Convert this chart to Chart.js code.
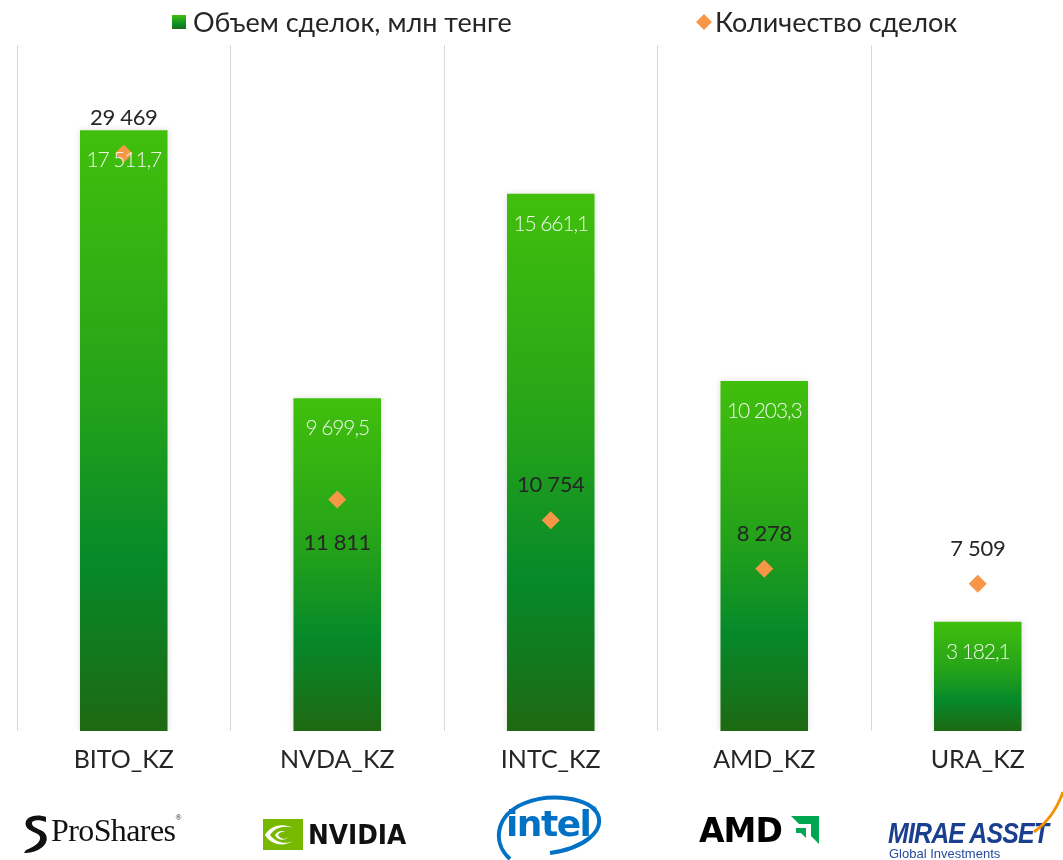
<!DOCTYPE html>
<html>
<head>
<meta charset="utf-8">
<script src="https://cdn.jsdelivr.net/npm/chart.js@4.4.1/dist/chart.umd.min.js"></script>
<style>
html,body{margin:0;padding:0;background:#fff;overflow:hidden;width:1063px;height:860px}
#wrap{position:absolute;left:0;top:0;width:1100px;height:860px}
.leg{position:absolute;font-family:Lato,sans-serif;font-size:27px;color:#262626;white-space:nowrap;line-height:1}
.logo{position:absolute;white-space:nowrap;line-height:1}
</style>
</head>
<body>
<div id="wrap"><canvas id="c" width="1100" height="860"></canvas></div>

<div class="leg" style="left:172px;top:15px;width:14px;height:14px;background:linear-gradient(#3fbe0c,#0a8a27 70%,#1e6912)"></div>
<div class="leg" id="leg1" style="left:193px;top:8px"></div>
<svg class="leg" style="left:696px;top:14px" width="16" height="16" viewBox="0 0 16 16"><path d="M8 0 L16 8 L8 16 L0 8 Z" fill="#f79646"/></svg>
<div class="leg" id="leg2" style="left:715px;top:8px"></div>

<!-- logos -->
<svg class="logo" style="left:21px;top:814px" width="30" height="40" viewBox="0 0 30 40">
  <path d="M25 3 C15 -1 2 3 5 12 C7 18 18 18 19 23 C20 29 12 33 5 36 L3 39 C16 39 29 31 25 21 C23 15 12 15 11 10 C10 6 18 5 25 8 Z" fill="#111"/>
</svg>
<div class="logo" style="left:51px;top:814px;font-family:'Liberation Serif',serif;font-size:32px;color:#111;letter-spacing:-0.6px">ProShares<span style="font-size:8px;vertical-align:top">®</span></div>

<svg class="logo" style="left:263px;top:819px" width="40" height="31" viewBox="0 0 40 31">
  <rect x="0" y="0" width="40" height="31" fill="#76b900"/>
  <path d="M2 16 C8 6 20 4 30 9 C22 6 12 8 7 16 C12 23 22 26 30 22 C20 28 8 26 2 16 Z" fill="#fff"/>
  <path d="M12 16 C15 11 21 11 24 14 C22 12 17 12 15 16 C17 20 22 21 25 18 C22 22 15 22 12 16 Z" fill="#fff"/>
</svg>
<div class="logo" style="left:308px;top:821px;font-family:'DejaVu Sans',sans-serif;font-weight:bold;font-size:27px;color:#111;transform:scaleX(0.92);transform-origin:left">NVIDIA</div>

<svg class="logo" style="left:490px;top:793px" width="115" height="67" viewBox="0 0 115 67">
  <path d="M20 66 C2 50 5 22 35 10 C60 0 100 4 108 22 C114 38 95 55 60 60" fill="none" stroke="#0071c5" stroke-width="4"/>
</svg>
<div class="logo" style="left:506px;top:806px;font-family:'DejaVu Sans',sans-serif;font-weight:bold;font-size:36px;color:#0071c5;letter-spacing:-1.5px">intel<span style="font-size:7px;vertical-align:top">®</span></div>

<div class="logo" style="left:699px;top:814px;font-family:'DejaVu Sans',sans-serif;font-weight:bold;font-size:33px;color:#000;letter-spacing:-1px">AMD</div>
<svg class="logo" style="left:789px;top:816px" width="30" height="29" viewBox="0 0 30 29">
  <path d="M2 0 H30 V28 L22 20 V8 H10 Z" fill="#00a651"/>
  <path d="M7 12 H17 V22 L12 17 H7 Z" fill="#00a651"/>
</svg>

<div class="logo" style="left:888px;top:818px;font-family:'Liberation Sans',sans-serif;font-weight:bold;font-style:italic;font-size:30px;color:#1b3f8f;transform:scaleX(0.83);transform-origin:left;letter-spacing:-1px">MIRAE ASSET</div>
<div class="logo" style="left:889px;top:847px;font-family:'Liberation Sans',sans-serif;font-size:13px;color:#264b9c">Global Investments</div>
<svg class="logo" style="left:1030px;top:790px" width="33" height="45" viewBox="0 0 33 45">
  <path d="M4 42 Q 24 28 33 2" fill="none" stroke="#f39200" stroke-width="3"/>
</svg>

<script>
// ---- data ----
const categories = ['BITO_KZ', 'NVDA_KZ', 'INTC_KZ', 'AMD_KZ', 'URA_KZ'];
const volumeMln = [17511.7, 9699.5, 15661.1, 10203.3, 3182.1];
const dealCount = [29469, 11811, 10754, 8278, 7509];
const seriesNames = ['Объем сделок, млн тенге', 'Количество сделок'];

document.getElementById('leg1').textContent = seriesNames[0];
document.getElementById('leg2').textContent = seriesNames[1];

function fmt(v, dec) {
  const parts = v.toFixed(dec).split('.');
  const intPart = parts[0].replace(/\B(?=(\d{3})+(?!\d))/g, ' ');
  return parts.length > 1 ? intPart + ',' + parts[1] : intPart;
}

function barGradient(ctx) {
  const chart = ctx.chart;
  if (!chart.chartArea || ctx.type !== 'data') return '#2aa01a';
  const y = chart.scales.y;
  const top = y.getPixelForValue(ctx.raw);
  const bottom = y.getPixelForValue(0);
  const g = chart.ctx.createLinearGradient(0, top, 0, bottom);
  g.addColorStop(0, '#41bf0c');
  g.addColorStop(0.45, '#24a21a');
  g.addColorStop(0.72, '#06892a');
  g.addColorStop(1, '#1e6912');
  return g;
}

const shadowPlugin = {
  id: 'barShadow',
  beforeDatasetDraw(chart, args) {
    if (args.index === 0) {
      chart.ctx.save();
      chart.ctx.shadowColor = 'rgba(0,0,0,0.13)';
      chart.ctx.shadowBlur = 6;
    }
  },
  afterDatasetDraw(chart, args) {
    if (args.index === 0) chart.ctx.restore();
  }
};

const labelPlugin = {
  id: 'valueLabels',
  afterDatasetsDraw(chart, args, opts) {
    const ctx = chart.ctx;
    const bars = chart.getDatasetMeta(0).data;
    const pts = chart.getDatasetMeta(1).data;
    ctx.save();
    ctx.textAlign = 'center';
    ctx.textBaseline = 'alphabetic';
    ctx.font = '300 21px Lato';
    ctx.letterSpacing = '-1.1px';
    ctx.fillStyle = '#eef8e8';
    bars.forEach((b, i) => ctx.fillText(fmt(volumeMln[i], 1), b.x, b.y + 37));
    ctx.font = '400 22px Lato';
    ctx.letterSpacing = '-0.3px';
    ctx.fillStyle = '#262626';
    pts.forEach((p, i) => {
      const below = opts.below[i];
      ctx.fillText(fmt(dealCount[i], 0), p.x, below ? p.y + 50 : p.y - 28);
    });
    ctx.restore();
  }
};

new Chart(document.getElementById('c'), {
  type: 'bar',
  data: {
    labels: categories,
    datasets: [
      {
        type: 'bar',
        label: seriesNames[0],
        data: volumeMln,
        yAxisID: 'y',
        backgroundColor: barGradient,
        borderWidth: 0,
        categoryPercentage: 1,
        barPercentage: 0.41,
        order: 2
      },
      {
        type: 'line',
        label: seriesNames[1],
        data: dealCount,
        yAxisID: 'y1',
        showLine: false,
        pointStyle: 'rectRot',
        pointRadius: 9,
        pointHoverRadius: 9,
        pointBackgroundColor: '#f79646',
        pointBorderWidth: 0,
        order: 1
      }
    ]
  },
  options: {
    responsive: false,
    animation: false,
    layout: { padding: { left: 17, right: 15.5, top: 45, bottom: 71 } },
    plugins: {
      legend: { display: false },
      tooltip: { enabled: false },
      valueLabels: { below: [false, true, false, false, false] }
    },
    scales: {
      x: {
        grid: { display: true, offset: true, color: '#d9d9d9', lineWidth: 1, drawTicks: false },
        border: { display: false },
        ticks: { color: '#262626', font: { family: 'Lato', size: 25 }, padding: 14 }
      },
      y: { display: false, min: 0, max: 20000 },
      y1: { display: false, min: 0, max: 35000 }
    }
  },
  plugins: [shadowPlugin, labelPlugin]
});
</script>
</body>
</html>
